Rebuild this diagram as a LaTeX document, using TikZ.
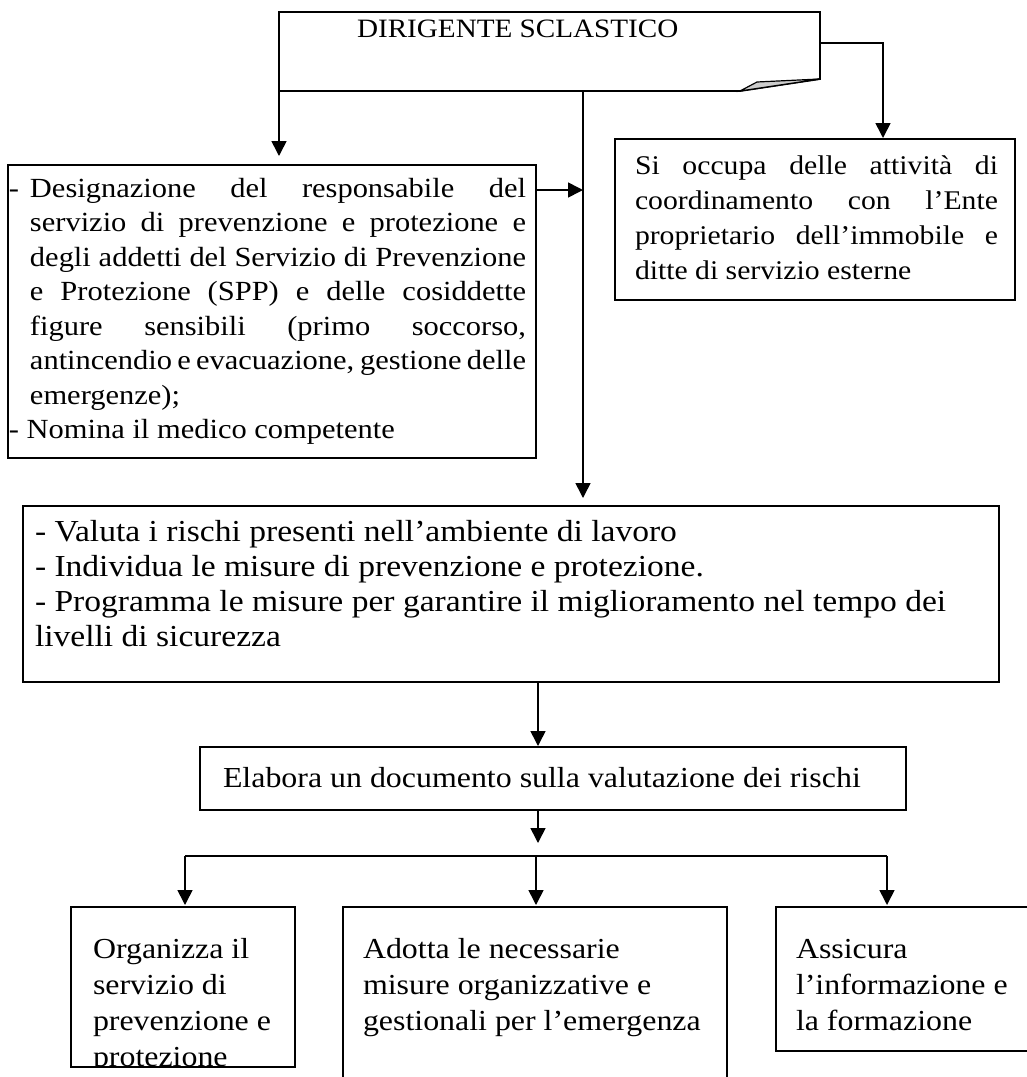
\documentclass[tikz,border=0pt]{standalone}
\usepackage{fontspec}
\setmainfont{Liberation Serif}[FakeStretch=1.1]
\usetikzlibrary{arrows.meta}
\newcommand{\fsz}[2]{\fontsize{#1pt}{#2pt}\selectfont}
\newcommand{\jl}[2]{\makebox[#1pt][s]{#2}}
\begin{document}
\begin{tikzpicture}[x=1pt,y=-1pt,
  frame/.style={inner sep=0pt,outer sep=0pt,anchor=north west},
  box/.style={frame,draw,line width=1.8pt},
  boxline/.style={line width=1.8pt},
  conn/.style={line width=1.6pt},
  arr/.style={conn,-{Triangle[width=15pt,length=15pt]}},
  txt/.style={inner sep=0pt,outer sep=0pt,anchor=base west}]
\useasboundingbox (0,0) rectangle (1027,1077);

% top box (folded corner)
\node[frame,minimum width=541pt,minimum height=79pt] (top) at (279,12) {};
\draw[boxline] (279,12) -- (820,12) -- (820,79) -- (740,91) -- (279,91) -- cycle;
\filldraw[line width=1.2pt,fill=gray!40] (740,91) -- (757,82) -- (820,79) -- cycle;
\node[txt,font=\fsz{26.5}{30}] (toptxt) at (357,37) {DIRIGENTE SCLASTICO};

% left box
\node[box,minimum width=528pt,minimum height=293pt] (left) at (8,165) {};
\node[txt,font=\fsz{27.7}{34.5}] (lefttxt) at (9,197) {\parbox[t]{520pt}{%
\makebox[21pt][l]{-}\jl{496}{Designazione del responsabile del}\par
\hspace*{21pt}\jl{496}{servizio di prevenzione e protezione e}\par
\hspace*{21pt}\jl{496}{degli addetti del Servizio di Prevenzione}\par
\hspace*{21pt}\jl{496}{e Protezione (SPP) e delle cosiddette}\par
\hspace*{21pt}\jl{496}{figure sensibili (primo soccorso,}\par
\hspace*{21pt}\jl{496}{antincendio e evacuazione, gestione delle}\par
\hspace*{21pt}emergenze);\par
- Nomina il medico competente}};

% right box
\node[box,minimum width=400pt,minimum height=161pt] (right) at (615,139) {};
\node[txt,font=\fsz{27}{35}] (righttxt) at (635,174) {\parbox[t]{370pt}{%
\jl{363}{Si occupa delle attività di}\par
\jl{363}{coordinamento con l’Ente}\par
\jl{363}{proprietario dell’immobile e}\par
ditte di servizio esterne}};

% main box
\node[box,minimum width=976pt,minimum height=176pt] (main) at (23,506) {};
\node[txt,font=\fsz{30.5}{35}] (maintxt) at (35,541) {\parbox[t]{950pt}{%
- Valuta i rischi presenti nell’ambiente di lavoro\par
- Individua le misure di prevenzione e protezione.\par
- Programma le misure per garantire il miglioramento nel tempo dei\par
livelli di sicurezza}};

% elabora box
\node[box,minimum width=706pt,minimum height=63pt] (elab) at (200,747) {};
\node[txt,font=\fsz{29}{35}] (elabtxt) at (223,787) {Elabora un documento sulla valutazione dei rischi};

% bottom boxes
\begin{scope}
\clip (71,907) rectangle (295,1066);
\node[txt,font=\fsz{29}{36}] (b1txt) at (93,958) {\parbox[t]{200pt}{%
Organizza il\par servizio di\par prevenzione e\par protezione}};
\end{scope}
\node[box,minimum width=224pt,minimum height=160pt] (bx1) at (71,907) {};

\node[box,minimum width=384pt,minimum height=183pt] (bx2) at (343,907) {};
\node[txt,font=\fsz{29}{36}] (b2txt) at (363,958) {\parbox[t]{360pt}{%
Adotta le necessarie\par misure organizzative e\par gestionali per l’emergenza}};

\node[box,minimum width=254pt,minimum height=144pt] (bx3) at (776,907) {};
\node[txt,font=\fsz{29}{36}] (b3txt) at (796,958) {\parbox[t]{230pt}{%
Assicura\par l’informazione e\par la formazione}};

% connectors
\draw[arr,shorten >=9pt] (top.south west) -- (top.south west |- left.north);
\coordinate (c0) at (583,91);
\draw[arr,shorten >=8pt] (c0) -- (c0 |- main.north);
\coordinate (t0) at (820,43);
\coordinate (t1) at (883,43);
\draw[arr,shorten >=1pt] (t0) -- (t1) -- (t1 |- right.north);
\coordinate (ly) at (0,190);
\draw[arr] (left.east |- ly) -- (c0 |- ly);
\coordinate (mx) at (538,0);
\draw[arr,shorten >=1pt] (main.south -| mx) -- (elab.north -| mx);
\coordinate (bj) at (538,843);
\draw[arr] (elab.south -| mx) -- (bj);
\coordinate (b1) at (185,856);
\coordinate (b2) at (536,856);
\coordinate (b3) at (887,856);
\draw[conn] (b1) -- (b3);
\draw[arr,shorten >=2pt] (b1) -- (b1 |- bx1.north);
\draw[arr,shorten >=2pt] (b2) -- (b2 |- bx2.north);
\draw[arr,shorten >=2pt] (b3) -- (b3 |- bx3.north);
\end{tikzpicture}
\end{document}
